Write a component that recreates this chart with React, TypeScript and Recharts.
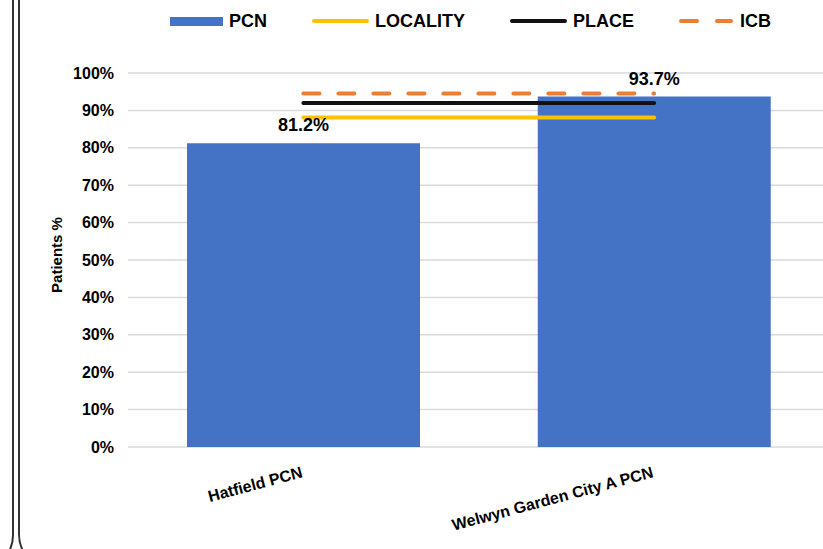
import {
  ComposedChart,
  Bar,
  Line,
  XAxis,
  YAxis,
  CartesianGrid,
  Legend,
  LabelList,
} from 'recharts';

const FONT = '"Liberation Sans", Arial, sans-serif';

const categories = ['Hatfield PCN', 'Welwyn Garden City A PCN'];
const pcnValues = [81.2, 93.7];
const localityValues = [88.1, 88.1];
const placeValues = [92.0, 92.0];
const icbValues = [94.5, 94.5];
const yTicks = [0, 10, 20, 30, 40, 50, 60, 70, 80, 90, 100];

const data = categories.map((name, i) => ({
  name,
  pcn: pcnValues[i],
  locality: localityValues[i],
  place: placeValues[i],
  icb: icbValues[i],
}));

// legend drawn like the excel one: wide swatches, bold caps
function ChartLegend() {
  const text = { fontSize: 18, fontWeight: 700, color: '#000', marginLeft: 6, lineHeight: '20px' };
  const item = { display: 'flex', alignItems: 'center', marginRight: 45 };
  const line = (color: string) => ({
    width: 57,
    height: 4,
    borderRadius: 2,
    background: color,
  });
  return (
    <div style={{ display: 'flex', alignItems: 'center', paddingLeft: 170, fontFamily: FONT }}>
      <div style={item}>
        <div style={{ width: 53, height: 9, background: '#4472C4' }} />
        <span style={text}>PCN</span>
      </div>
      <div style={item}>
        <div style={line('#FFC000')} />
        <span style={text}>LOCALITY</span>
      </div>
      <div style={item}>
        <div style={line('#111')} />
        <span style={text}>PLACE</span>
      </div>
      <div style={item}>
        <div style={{ display: 'flex', width: 55 }}>
          <div style={{ width: 20, height: 4, borderRadius: 2, background: '#ED7D31' }} />
          <div style={{ width: 18, height: 4, borderRadius: 2, background: '#ED7D31', marginLeft: 16 }} />
        </div>
        <span style={text}>ICB</span>
      </div>
    </div>
  );
}

function CategoryTick(props: any) {
  const { x, y, payload } = props;
  return (
    <g transform={`translate(${x},${y + 30}) rotate(-15)`}>
      <text
        x={0}
        y={0}
        textAnchor="end"
        fill="#000"
        fontSize={16}
        fontWeight={700}
        fontFamily={FONT}
      >
        {payload.value}
      </text>
    </g>
  );
}

export default function App() {
  return (
    <div
      style={{
        position: 'absolute',
        left: 0,
        top: 0,
        width: 823,
        height: 549,
        overflow: 'hidden',
        background: '#fff',
        fontFamily: FONT,
      }}
    >
      {/* frame edges of the surrounding slide */}
      <div
        style={{
          position: 'absolute',
          left: -60,
          top: -40,
          width: 70,
          height: 608,
          border: '2px solid #333',
          borderRadius: 38,
        }}
      />
      <div
        style={{
          position: 'absolute',
          left: 18,
          top: -40,
          width: 900,
          height: 608,
          border: '2px solid #333',
          borderRadius: 38,
        }}
      />

      <div style={{ position: 'absolute', left: 0, top: 0 }}>
        <ComposedChart
          width={850}
          height={549}
          data={data}
          margin={{ top: 53, right: 20.5, bottom: 2, left: 0 }}
        >
          <CartesianGrid vertical={false} stroke="#D9D9D9" strokeWidth={1.5} />
          <XAxis
            dataKey="name"
            axisLine={false}
            tickLine={false}
            tickSize={0}
            tickMargin={0}
            height={100}
            interval={0}
            tick={<CategoryTick />}
          />
          <YAxis
            domain={[0, 100]}
            ticks={yTicks}
            tickFormatter={(v: number) => `${v}%`}
            axisLine={false}
            tickLine={false}
            tickSize={6}
            tickMargin={8}
            width={128}
            tick={{ fill: '#000', fontSize: 16, fontWeight: 700, fontFamily: FONT }}
            label={({ viewBox }: any) => {
              const cx = viewBox.x + 62;
              const cy = viewBox.y + viewBox.height / 2 - 5;
              return (
                <text
                  x={cx}
                  y={cy}
                  transform={`rotate(-90, ${cx}, ${cy})`}
                  textAnchor="middle"
                  fill="#000"
                  fontSize={15}
                  fontWeight={700}
                  fontFamily={FONT}
                >
                  Patients %
                </text>
              );
            }}
          />
          <Legend
            verticalAlign="top"
            content={() => <ChartLegend />}
            wrapperStyle={{ top: 11, left: 0, width: 823, height: 20 }}
          />

          <Bar dataKey="pcn" fill="#4472C4" barSize={233} isAnimationActive={false}>
            <LabelList
              dataKey="pcn"
              position="top"
              offset={12}
              formatter={(v: number) => `${v.toFixed(1)}%`}
              style={{ fill: '#000', fontSize: 18, fontWeight: 700, fontFamily: FONT }}
            />
          </Bar>

          <Line
            type="linear"
            dataKey="locality"
            stroke="#FFC000"
            strokeWidth={4}
            strokeLinecap="round"
            dot={false}
            activeDot={false}
            isAnimationActive={false}
          />
          <Line
            type="linear"
            dataKey="place"
            stroke="#111"
            strokeWidth={4}
            strokeLinecap="round"
            dot={false}
            activeDot={false}
            isAnimationActive={false}
          />
          <Line
            type="linear"
            dataKey="icb"
            stroke="#ED7D31"
            strokeWidth={4}
            strokeLinecap="round"
            strokeDasharray="16 19"
            dot={false}
            activeDot={false}
            isAnimationActive={false}
          />
        </ComposedChart>
      </div>
    </div>
  );
}
